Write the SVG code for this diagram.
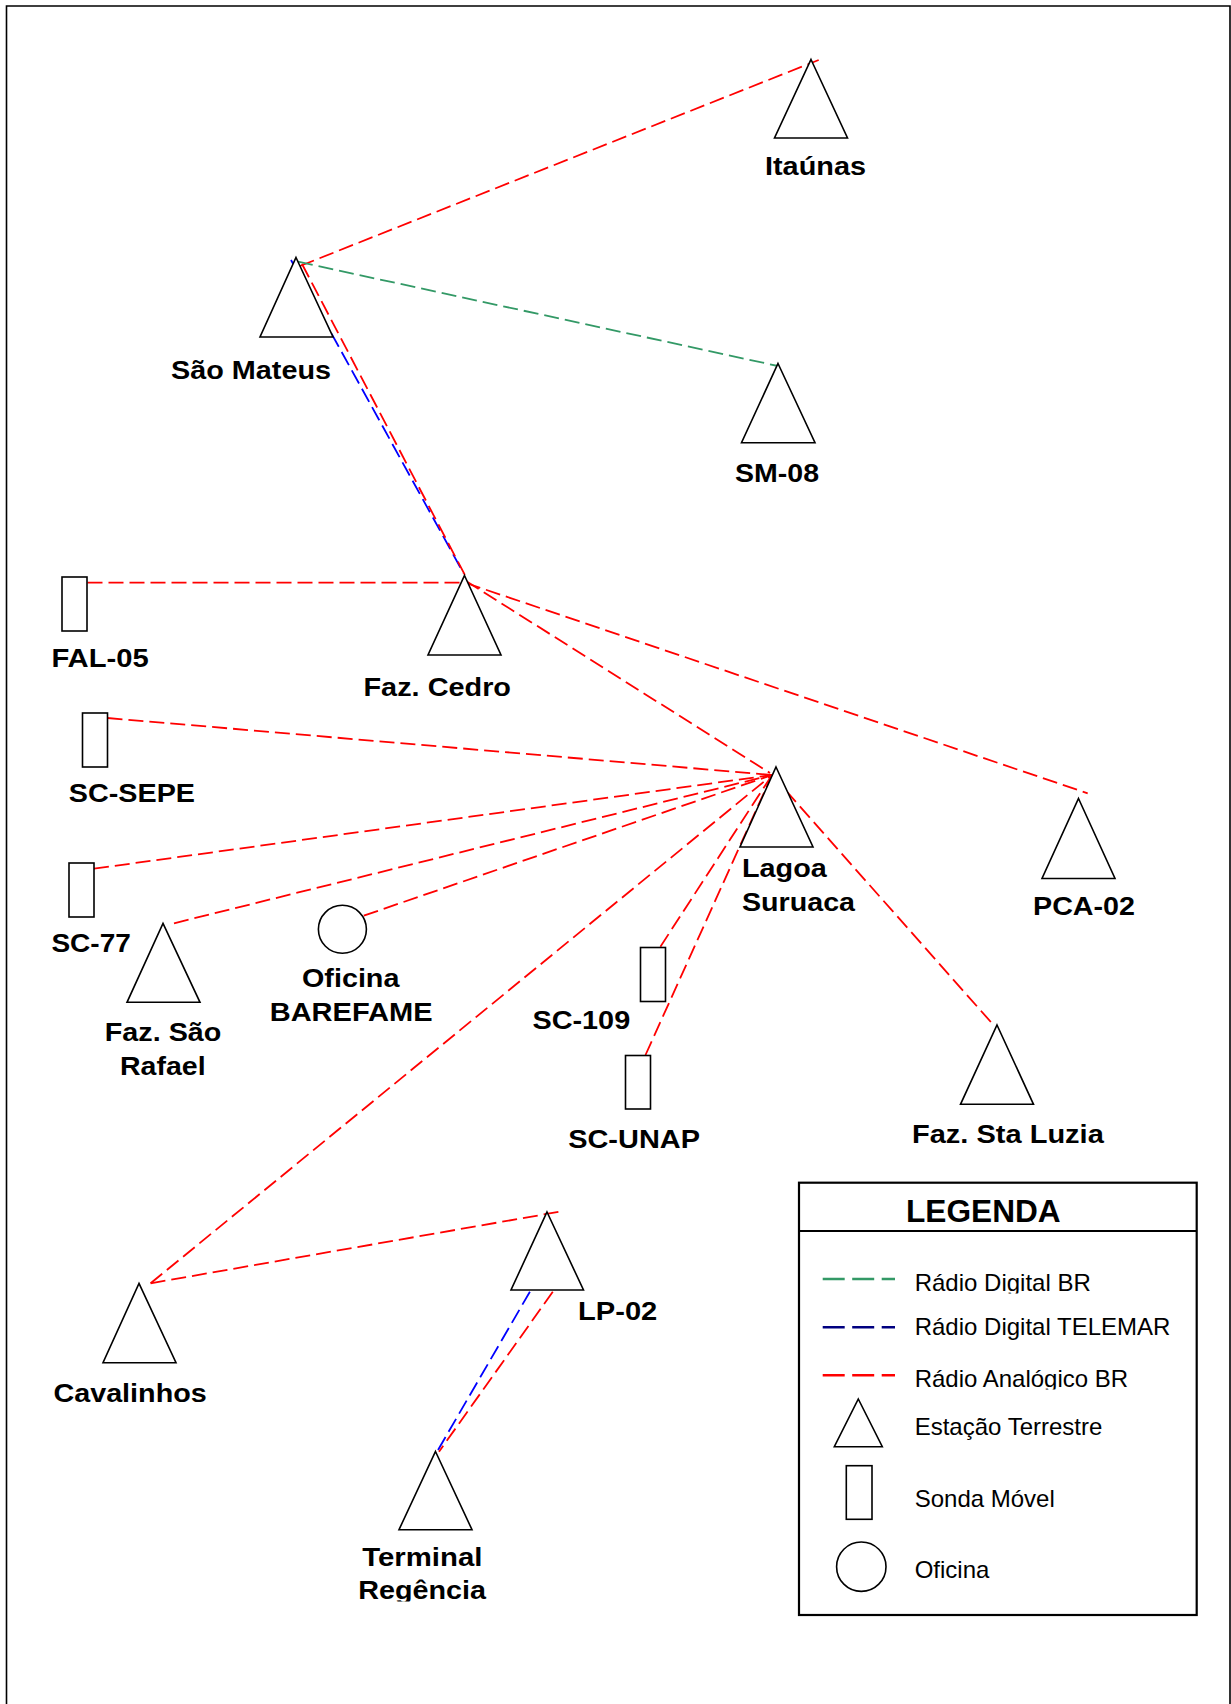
<svg xmlns="http://www.w3.org/2000/svg" width="1231" height="1704" viewBox="0 0 1231 1704">
  <style>
    .node { fill: #fff; stroke: #000; stroke-width: 1.6; }
    .lbl { font-family: "Liberation Sans", Arial, sans-serif; font-weight: bold; font-size: 26px; fill: #000; }
    .leg { font-family: "Liberation Sans", Arial, sans-serif; font-size: 24px; fill: #000; }
    .link { fill: none; stroke-width: 1.8; stroke-dasharray: 15 6; }
    .an { stroke: #ff0000; }
    .dg { stroke: #339966; }
    .tl { stroke: #0000ff; }
    .key { fill: none; stroke-width: 2.5; stroke-dasharray: 22 7.5; }
  </style>
  <defs>
    <clipPath id="cut-regencia"><rect x="300" y="1540" width="250" height="61.5"/></clipPath>
    <clipPath id="cut-key1"><rect x="900" y="1260" width="280" height="33.5"/></clipPath>
    <clipPath id="cut-key3"><rect x="900" y="1355" width="280" height="34.5"/></clipPath>
  </defs>

  <rect width="1231" height="1704" fill="#fff"/>
  <!-- page frame (open at the bottom) -->
  <path d="M6.5,1704 V6 H1230 V1704" fill="none" stroke="#000" stroke-width="1.6"/>

  <g id="connectors">
    <!-- São Mateus -->
    <line class="link an" x1="300" y1="266" x2="818.7" y2="60"/>
    <line class="link dg" x1="298" y1="261.7" x2="778" y2="366"/>
    <line class="link tl" x1="291" y1="260" x2="463.4" y2="573"/>
    <line class="link an" x1="302" y1="264" x2="467" y2="579"/>
    <!-- Faz. Cedro -->
    <line class="link an" x1="87.5" y1="582.7" x2="464" y2="582.7"/>
    <line class="link an" x1="466" y1="581" x2="770" y2="773"/>
    <line class="link an" x1="466" y1="583" x2="1087.7" y2="793.3"/>
    <!-- Lagoa Suruaca -->
    <line class="link an" x1="107.5" y1="718" x2="772" y2="775"/>
    <line class="link an" x1="94" y1="868.7" x2="772" y2="775"/>
    <line class="link an" x1="174" y1="923.3" x2="772" y2="775"/>
    <line class="link an" x1="363.8" y1="915.7" x2="772" y2="775"/>
    <line class="link an" x1="150.6" y1="1283.3" x2="772" y2="775"/>
    <line class="link an" x1="660.4" y1="946.7" x2="772" y2="775"/>
    <line class="link an" x1="645.5" y1="1055" x2="772" y2="775"/>
    <line class="link an" x1="772" y1="775" x2="994.4" y2="1026"/>
    <!-- Cavalinhos / LP-02 / Terminal -->
    <line class="link an" x1="150.6" y1="1283.3" x2="559.5" y2="1211.7"/>
    <line class="link tl" x1="529.9" y1="1291.7" x2="438" y2="1450"/>
    <line class="link an" x1="552.8" y1="1291.7" x2="439" y2="1451.7"/>
  </g>

  <g id="itaunas">
    <polygon class="node" points="811,59.5 847.5,138 774.5,138"/>
    <text class="lbl" x="765" y="175" textLength="101" lengthAdjust="spacingAndGlyphs">Itaúnas</text>
  </g>
  <g id="sao-mateus">
    <polygon class="node" points="296,257.5 333,337 260,337"/>
    <text class="lbl" x="171" y="379" textLength="160" lengthAdjust="spacingAndGlyphs">São Mateus</text>
  </g>
  <g id="sm-08">
    <polygon class="node" points="778,363.5 815,442.7 741.5,442.7"/>
    <text class="lbl" x="735" y="481.7" textLength="84" lengthAdjust="spacingAndGlyphs">SM-08</text>
  </g>
  <g id="fal-05">
    <rect class="node" x="62" y="577" width="25" height="54"/>
    <text class="lbl" x="51.4" y="667" textLength="97.3" lengthAdjust="spacingAndGlyphs">FAL-05</text>
  </g>
  <g id="faz-cedro">
    <polygon class="node" points="464.5,575.5 501,655 428,655"/>
    <text class="lbl" x="363.5" y="696" textLength="147.5" lengthAdjust="spacingAndGlyphs">Faz. Cedro</text>
  </g>
  <g id="sc-sepe">
    <rect class="node" x="82.5" y="713" width="25" height="54"/>
    <text class="lbl" x="68.8" y="801.7" textLength="126.2" lengthAdjust="spacingAndGlyphs">SC-SEPE</text>
  </g>
  <g id="lagoa-suruaca">
    <polygon class="node" points="776,767 813,847 740,847"/>
    <text class="lbl" x="742" y="877" textLength="84.8" lengthAdjust="spacingAndGlyphs">Lagoa</text>
    <text class="lbl" x="742" y="911" textLength="113" lengthAdjust="spacingAndGlyphs">Suruaca</text>
  </g>
  <g id="pca-02">
    <polygon class="node" points="1078.5,798.5 1115,878.5 1042,878.5"/>
    <text class="lbl" x="1033" y="915" textLength="102" lengthAdjust="spacingAndGlyphs">PCA-02</text>
  </g>
  <g id="sc-77">
    <rect class="node" x="69" y="863" width="25" height="54"/>
    <text class="lbl" x="51.4" y="951.7" textLength="79.5" lengthAdjust="spacingAndGlyphs">SC-77</text>
  </g>
  <g id="faz-sao-rafael">
    <polygon class="node" points="163,923.3 200,1002.3 127,1002.3"/>
    <text class="lbl" x="104.8" y="1040.7" textLength="116.6" lengthAdjust="spacingAndGlyphs">Faz. São</text>
    <text class="lbl" x="120" y="1075" textLength="85.6" lengthAdjust="spacingAndGlyphs">Rafael</text>
  </g>
  <g id="oficina-barefame">
    <circle class="node" cx="342.4" cy="929.3" r="24"/>
    <text class="lbl" x="302" y="987.3" textLength="97.4" lengthAdjust="spacingAndGlyphs">Oficina</text>
    <text class="lbl" x="269.7" y="1020.7" textLength="162.9" lengthAdjust="spacingAndGlyphs">BAREFAME</text>
  </g>
  <g id="sc-109">
    <rect class="node" x="640.5" y="947.5" width="25" height="54"/>
    <text class="lbl" x="532.4" y="1029" textLength="97.8" lengthAdjust="spacingAndGlyphs">SC-109</text>
  </g>
  <g id="sc-unap">
    <rect class="node" x="625.5" y="1055.5" width="25" height="53.5"/>
    <text class="lbl" x="568.2" y="1148.3" textLength="131.8" lengthAdjust="spacingAndGlyphs">SC-UNAP</text>
  </g>
  <g id="faz-sta-luzia">
    <polygon class="node" points="997,1025 1033.5,1104.3 960.5,1104.3"/>
    <text class="lbl" x="912" y="1143.3" textLength="191.8" lengthAdjust="spacingAndGlyphs">Faz. Sta Luzia</text>
  </g>
  <g id="cavalinhos">
    <polygon class="node" points="139,1283.3 176,1362.7 103,1362.7"/>
    <text class="lbl" x="53.4" y="1401.7" textLength="153.4" lengthAdjust="spacingAndGlyphs">Cavalinhos</text>
  </g>
  <g id="lp-02">
    <polygon class="node" points="547,1212 583.5,1290 511,1290"/>
    <text class="lbl" x="578" y="1320" textLength="79.3" lengthAdjust="spacingAndGlyphs">LP-02</text>
  </g>
  <g id="terminal-regencia">
    <polygon class="node" points="435.5,1451.5 472,1529.7 399,1529.7"/>
    <g clip-path="url(#cut-regencia)">
      <text class="lbl" x="362.2" y="1565.7" textLength="120.2" lengthAdjust="spacingAndGlyphs">Terminal</text>
      <text class="lbl" x="358.2" y="1599" textLength="127.8" lengthAdjust="spacingAndGlyphs">Regência</text>
    </g>
  </g>

  <g id="legenda">
    <rect x="799" y="1182.7" width="397.7" height="432.3" fill="none" stroke="#000" stroke-width="2.2"/>
    <line x1="799" y1="1231" x2="1196.7" y2="1231" stroke="#000" stroke-width="2"/>
    <text x="906" y="1221.7" font-family="'Liberation Sans', Arial, sans-serif" font-weight="bold" font-size="31" textLength="154.7" lengthAdjust="spacingAndGlyphs">LEGENDA</text>

    <line class="key" x1="822.7" y1="1279" x2="895" y2="1279" stroke="#339966"/>
    <text class="leg" x="914.7" y="1290.7" clip-path="url(#cut-key1)">Rádio Digital BR</text>

    <line class="key" x1="822.7" y1="1327.3" x2="895" y2="1327.3" stroke="#000080"/>
    <text class="leg" x="914.7" y="1335">Rádio Digital TELEMAR</text>

    <line class="key" x1="822.7" y1="1375.3" x2="895" y2="1375.3" stroke="#ff0000"/>
    <text class="leg" x="914.7" y="1387.3" clip-path="url(#cut-key3)">Rádio Analógico BR</text>

    <polygon class="node" points="858.3,1399 882.3,1446.7 834.3,1446.7"/>
    <text class="leg" x="914.7" y="1435">Estação Terrestre</text>

    <rect class="node" x="846.3" y="1465.7" width="25.7" height="53.6"/>
    <text class="leg" x="914.7" y="1506.7">Sonda Móvel</text>

    <circle class="node" cx="861.3" cy="1566.7" r="24.7"/>
    <text class="leg" x="914.7" y="1578.3">Oficina</text>
  </g>
</svg>
